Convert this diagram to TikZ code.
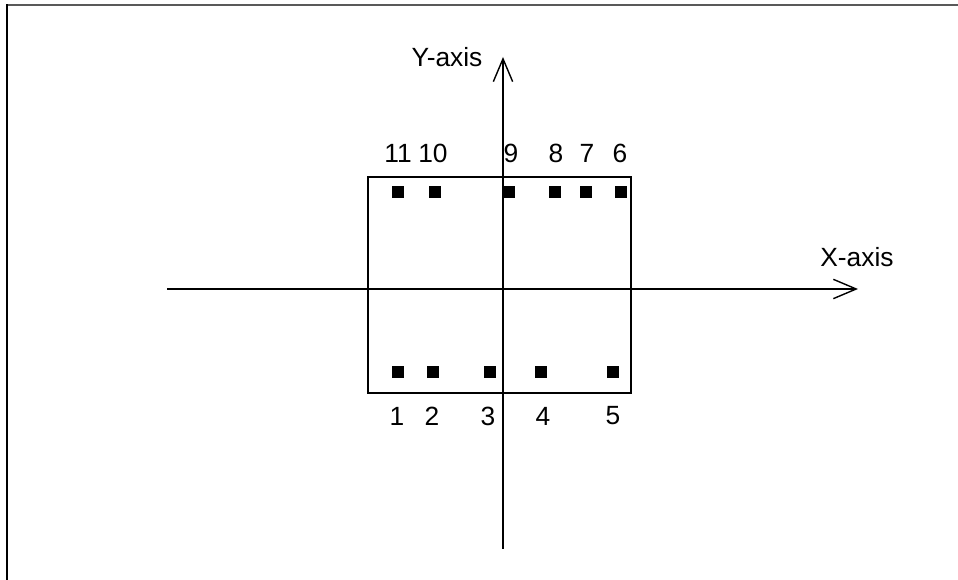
\documentclass[tikz,border=0pt]{standalone}
\usepackage{fontspec}
\setmainfont{Liberation Sans}
\usetikzlibrary{positioning, arrows.meta}
\tikzset{%
  axis/.style={draw, line width=0.8pt, -{Straight Barb[length=13pt, width=11pt, line width=0.8pt]}}, % the two axes
  pin/.style={draw=none, fill=black, minimum size=6.8pt, inner sep=0pt}, % small black squares
  num/.style={inner sep=1pt},
  every node/.style={font=\fontsize{15}{18}\selectfont}
}

\begin{document}
\begin{tikzpicture}[x=0.02cm, y=-0.02cm, line cap=rect]
    \useasboundingbox (0,0) rectangle (958,580);
    % frame
    \draw[line width=1.2pt, black!65] (7,5) -- (958,5);
    \draw[line width=0.9pt] (7,5) -- (7,580);

    % the box
    \node[draw, line width=0.8pt, minimum width=263*0.02cm, minimum height=216*0.02cm, inner sep=0pt] (box) at (499.5,285) {};

    % axes
    \coordinate (xs) at (168,289);
    \coordinate (xe) at (858,289);
    \coordinate (ys) at (503,548);
    \coordinate (ye) at (503,57);
    \draw[axis] (xs) -- (xe);
    \draw[axis] (ys) -- (ye);
    \node (xlab) at (857,257) {X-axis};
    \node (ylab) at (447,57) {Y-axis};

    % bottom row
    \node[pin] (p1) at (398,372) {};
    \node[pin] (p2) at (433,372) {};
    \node[pin] (p3) at (490,372) {};
    \node[pin] (p4) at (541,372) {};
    \node[pin] (p5) at (613,372) {};
    \node[num] (n1) at (397,416) {1};
    \node[num] (n2) at (432,416) {2};
    \node[num] (n3) at (488,416) {3};
    \node[num] (n4) at (543,416) {4};
    \node[num] (n5) at (613,416) {5};

    % top row
    \node[pin] (p6) at (621,192) {};
    \node[pin] (p7) at (586,192) {};
    \node[pin] (p8) at (555,192) {};
    \node[pin] (p9) at (509,192) {};
    \node[pin] (p10) at (435,192) {};
    \node[pin] (p11) at (398,192) {};
    \node[num] (n6) at (620,153) {6};
    \node[num] (n7) at (587,153) {7};
    \node[num] (n8) at (556,153) {8};
    \node[num] (n9) at (511,153) {9};
    \node[num] (n10) at (433,153) {10};
    \node[num] (n11) at (398,153) {11};
\end{tikzpicture}
\end{document}
